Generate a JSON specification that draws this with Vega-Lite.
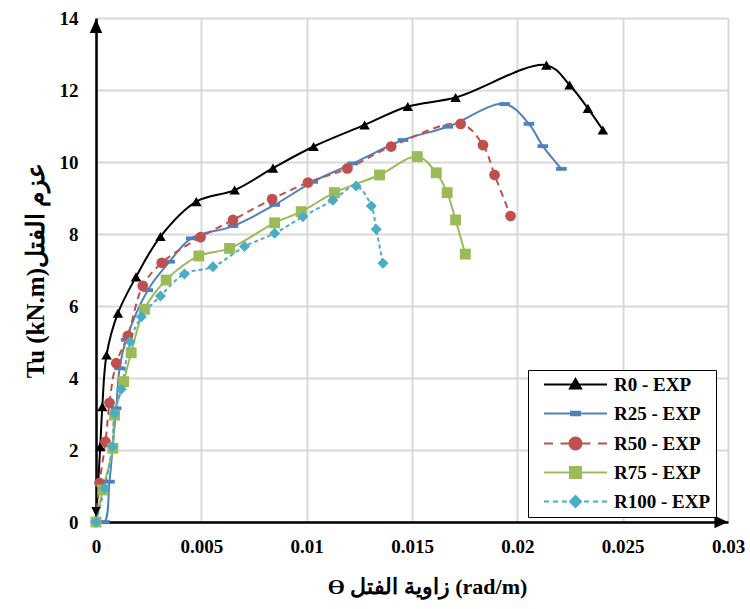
{
  "$schema": "https://vega.github.io/schema/vega-lite/v6.json",
  "width": 632,
  "height": 504,
  "autosize": {"type": "none"},
  "padding": {"left": 96, "top": 18, "right": 22, "bottom": 87},
  "background": "white",
  "config": {
    "view": {"stroke": null},
    "font": "Liberation Serif",
    "axis": {
      "domainColor": "black",
      "domainWidth": 2.5,
      "gridColor": "#d9d9d9",
      "gridWidth": 2,
      "ticks": false,
      "labelFlush": false,
      "labelFont": "Liberation Serif",
      "labelFontWeight": "bold",
      "labelFontSize": 19,
      "labelColor": "black",
      "titleFont": "Liberation Serif",
      "titleFontWeight": "bold",
      "titleFontSize": 22,
      "titleColor": "black"
    }
  },
  "datasets": {
    "curves": [
      {"series": "R0 - EXP", "theta": 0, "tu": 0},
      {"series": "R0 - EXP", "theta": 0.0002, "tu": 2.09},
      {"series": "R0 - EXP", "theta": 0.0003, "tu": 3.2},
      {"series": "R0 - EXP", "theta": 0.0005, "tu": 4.64},
      {"series": "R0 - EXP", "theta": 0.00104, "tu": 5.8},
      {"series": "R0 - EXP", "theta": 0.0019, "tu": 6.81},
      {"series": "R0 - EXP", "theta": 0.00306, "tu": 7.93},
      {"series": "R0 - EXP", "theta": 0.00476, "tu": 8.9},
      {"series": "R0 - EXP", "theta": 0.00658, "tu": 9.22},
      {"series": "R0 - EXP", "theta": 0.0084, "tu": 9.83},
      {"series": "R0 - EXP", "theta": 0.01033, "tu": 10.43},
      {"series": "R0 - EXP", "theta": 0.01275, "tu": 11.03},
      {"series": "R0 - EXP", "theta": 0.0148, "tu": 11.54},
      {"series": "R0 - EXP", "theta": 0.01707, "tu": 11.79},
      {"series": "R0 - EXP", "theta": 0.02138, "tu": 12.69},
      {"series": "R0 - EXP", "theta": 0.02248, "tu": 12.14},
      {"series": "R0 - EXP", "theta": 0.02335, "tu": 11.49},
      {"series": "R0 - EXP", "theta": 0.02406, "tu": 10.89},

      {"series": "R25 - EXP", "theta": 0, "tu": 0},
      {"series": "R25 - EXP", "theta": 0.0004, "tu": 0},
      {"series": "R25 - EXP", "theta": 0.00064, "tu": 1.12},
      {"series": "R25 - EXP", "theta": 0.0008, "tu": 2.14},
      {"series": "R25 - EXP", "theta": 0.00096, "tu": 3.16},
      {"series": "R25 - EXP", "theta": 0.00112, "tu": 4.27},
      {"series": "R25 - EXP", "theta": 0.00143, "tu": 5.06},
      {"series": "R25 - EXP", "theta": 0.00246, "tu": 6.44},
      {"series": "R25 - EXP", "theta": 0.00349, "tu": 7.23},
      {"series": "R25 - EXP", "theta": 0.00452, "tu": 7.88},
      {"series": "R25 - EXP", "theta": 0.0065, "tu": 8.22},
      {"series": "R25 - EXP", "theta": 0.00848, "tu": 8.81},
      {"series": "R25 - EXP", "theta": 0.01029, "tu": 9.45},
      {"series": "R25 - EXP", "theta": 0.01219, "tu": 9.96},
      {"series": "R25 - EXP", "theta": 0.01457, "tu": 10.61},
      {"series": "R25 - EXP", "theta": 0.0167, "tu": 10.98},
      {"series": "R25 - EXP", "theta": 0.0194, "tu": 11.61},
      {"series": "R25 - EXP", "theta": 0.02055, "tu": 11.06},
      {"series": "R25 - EXP", "theta": 0.02121, "tu": 10.44},
      {"series": "R25 - EXP", "theta": 0.02209, "tu": 9.81},

      {"series": "R50 - EXP", "theta": 0, "tu": 0},
      {"series": "R50 - EXP", "theta": 0.00017, "tu": 1.09},
      {"series": "R50 - EXP", "theta": 0.00045, "tu": 2.23},
      {"series": "R50 - EXP", "theta": 0.00064, "tu": 3.31},
      {"series": "R50 - EXP", "theta": 0.00096, "tu": 4.41},
      {"series": "R50 - EXP", "theta": 0.00151, "tu": 5.17},
      {"series": "R50 - EXP", "theta": 0.00222, "tu": 6.56},
      {"series": "R50 - EXP", "theta": 0.00312, "tu": 7.2},
      {"series": "R50 - EXP", "theta": 0.00496, "tu": 7.91},
      {"series": "R50 - EXP", "theta": 0.0065, "tu": 8.39},
      {"series": "R50 - EXP", "theta": 0.00836, "tu": 8.97},
      {"series": "R50 - EXP", "theta": 0.01006, "tu": 9.43},
      {"series": "R50 - EXP", "theta": 0.01193, "tu": 9.82},
      {"series": "R50 - EXP", "theta": 0.01401, "tu": 10.43},
      {"series": "R50 - EXP", "theta": 0.01731, "tu": 11.06},
      {"series": "R50 - EXP", "theta": 0.01837, "tu": 10.47},
      {"series": "R50 - EXP", "theta": 0.01892, "tu": 9.64},
      {"series": "R50 - EXP", "theta": 0.01968, "tu": 8.5},

      {"series": "R75 - EXP", "theta": 0, "tu": 0},
      {"series": "R75 - EXP", "theta": 0.00032, "tu": 0.89},
      {"series": "R75 - EXP", "theta": 0.0008, "tu": 2.05},
      {"series": "R75 - EXP", "theta": 0.00088, "tu": 2.97},
      {"series": "R75 - EXP", "theta": 0.00131, "tu": 3.9},
      {"series": "R75 - EXP", "theta": 0.00167, "tu": 4.7},
      {"series": "R75 - EXP", "theta": 0.0023, "tu": 5.91},
      {"series": "R75 - EXP", "theta": 0.00333, "tu": 6.72},
      {"series": "R75 - EXP", "theta": 0.00488, "tu": 7.39},
      {"series": "R75 - EXP", "theta": 0.00634, "tu": 7.6},
      {"series": "R75 - EXP", "theta": 0.00848, "tu": 8.31},
      {"series": "R75 - EXP", "theta": 0.00974, "tu": 8.62},
      {"series": "R75 - EXP", "theta": 0.01132, "tu": 9.15},
      {"series": "R75 - EXP", "theta": 0.01346, "tu": 9.64},
      {"series": "R75 - EXP", "theta": 0.01525, "tu": 10.15},
      {"series": "R75 - EXP", "theta": 0.01615, "tu": 9.7},
      {"series": "R75 - EXP", "theta": 0.01667, "tu": 9.15},
      {"series": "R75 - EXP", "theta": 0.01707, "tu": 8.39},
      {"series": "R75 - EXP", "theta": 0.01753, "tu": 7.44},

      {"series": "R100 - EXP", "theta": 0, "tu": 0},
      {"series": "R100 - EXP", "theta": 0.0004, "tu": 0.94},
      {"series": "R100 - EXP", "theta": 0.00077, "tu": 2.09},
      {"series": "R100 - EXP", "theta": 0.00088, "tu": 3.02},
      {"series": "R100 - EXP", "theta": 0.0012, "tu": 3.69},
      {"series": "R100 - EXP", "theta": 0.00162, "tu": 5.01},
      {"series": "R100 - EXP", "theta": 0.00215, "tu": 5.7},
      {"series": "R100 - EXP", "theta": 0.00306, "tu": 6.28},
      {"series": "R100 - EXP", "theta": 0.0042, "tu": 6.89},
      {"series": "R100 - EXP", "theta": 0.00555, "tu": 7.09},
      {"series": "R100 - EXP", "theta": 0.00705, "tu": 7.65},
      {"series": "R100 - EXP", "theta": 0.00848, "tu": 8.02},
      {"series": "R100 - EXP", "theta": 0.00982, "tu": 8.48},
      {"series": "R100 - EXP", "theta": 0.01124, "tu": 8.94},
      {"series": "R100 - EXP", "theta": 0.01235, "tu": 9.33},
      {"series": "R100 - EXP", "theta": 0.01307, "tu": 8.78},
      {"series": "R100 - EXP", "theta": 0.0133, "tu": 8.13},
      {"series": "R100 - EXP", "theta": 0.01362, "tu": 7.19}
    ],
    "axisArrows": [
      {"dir": "up", "theta": 0, "tu": 13.78},
      {"dir": "down", "theta": 0, "tu": 0.28},
      {"dir": "right", "theta": 0.02968, "tu": 0}
    ]
  },
  "layer": [
    {
      "data": {"name": "curves"},
      "transform": [{"filter": "datum.series !== 'R50 - EXP' && datum.series !== 'R100 - EXP'"}],
      "mark": {"type": "line", "interpolate": "catmull-rom", "strokeWidth": 2},
      "encoding": {
        "x": {
          "field": "theta", "type": "quantitative",
          "scale": {"domain": [0, 0.03], "nice": false, "zero": true},
          "axis": {
            "values": [0, 0.005, 0.01, 0.015, 0.02, 0.025, 0.03],
            "format": "~g",
            "labelPadding": 15,
            "titlePadding": 20,
            "titleX": 331,
            "title": "ϴ زاوية الفتل (rad/m)"
          }
        },
        "y": {
          "field": "tu", "type": "quantitative",
          "scale": {"domain": [0, 14], "nice": false},
          "axis": {
            "values": [0, 2, 4, 6, 8, 10, 12, 14],
            "labelPadding": 18,
            "titlePadding": 11,
            "titleFontSize": 25,
            "title": "Tu (kN.m)عزم الفتل"
          }
        },
        "color": {
          "field": "series", "type": "nominal", "legend": null,
          "scale": {
            "domain": ["R0 - EXP", "R25 - EXP", "R50 - EXP", "R75 - EXP", "R100 - EXP"],
            "range": ["#000000", "#4F81BD", "#C0504D", "#9BBB59", "#4BACC6"]
          }
        }
      }
    },
    {
      "data": {"name": "curves"},
      "transform": [{"filter": "datum.series === 'R50 - EXP'"}],
      "mark": {"type": "line", "interpolate": "catmull-rom", "strokeWidth": 2, "strokeDash": [7, 5], "color": "#C0504D"},
      "encoding": {
        "x": {"field": "theta", "type": "quantitative"},
        "y": {"field": "tu", "type": "quantitative"}
      }
    },
    {
      "data": {"name": "curves"},
      "transform": [{"filter": "datum.series === 'R100 - EXP'"}],
      "mark": {"type": "line", "interpolate": "catmull-rom", "strokeWidth": 2, "strokeDash": [4, 3], "color": "#4BACC6"},
      "encoding": {
        "x": {"field": "theta", "type": "quantitative"},
        "y": {"field": "tu", "type": "quantitative"}
      }
    },
    {
      "data": {"name": "curves"},
      "mark": {"type": "point", "filled": true, "opacity": 1},
      "encoding": {
        "x": {"field": "theta", "type": "quantitative"},
        "y": {"field": "tu", "type": "quantitative"},
        "color": {
          "field": "series", "type": "nominal", "legend": null,
          "scale": {
            "domain": ["R0 - EXP", "R25 - EXP", "R50 - EXP", "R75 - EXP", "R100 - EXP"],
            "range": ["#000000", "#4F81BD", "#C0504D", "#9BBB59", "#4BACC6"]
          }
        },
        "shape": {
          "field": "series", "type": "nominal", "legend": null,
          "scale": {
            "domain": ["R0 - EXP", "R25 - EXP", "R50 - EXP", "R75 - EXP", "R100 - EXP"],
            "range": ["triangle-up", "M-1,-0.36H1V0.36H-1Z", "circle", "square", "diamond"]
          }
        },
        "size": {
          "field": "series", "type": "nominal", "legend": null,
          "scale": {
            "domain": ["R0 - EXP", "R25 - EXP", "R50 - EXP", "R75 - EXP", "R100 - EXP"],
            "range": [110, 121, 170, 115, 85]
          }
        }
      }
    },
    {
      "data": {"name": "curves"},
      "transform": [{"filter": "false"}],
      "mark": {"type": "point", "filled": true, "opacity": 1, "strokeWidth": 2},
      "encoding": {
        "x": {"field": "theta", "type": "quantitative"},
        "y": {"field": "tu", "type": "quantitative"},
        "fill": {
          "field": "series", "type": "nominal", "title": null,
          "scale": {
            "domain": ["R0 - EXP", "R25 - EXP", "R50 - EXP", "R75 - EXP", "R100 - EXP"],
            "range": ["#000000", "#4F81BD", "#C0504D", "#9BBB59", "#4BACC6"]
          }
        },
        "stroke": {
          "field": "series", "type": "nominal", "title": null,
          "scale": {
            "domain": ["R0 - EXP", "R25 - EXP", "R50 - EXP", "R75 - EXP", "R100 - EXP"],
            "range": ["#000000", "#4F81BD", "#C0504D", "#9BBB59", "#4BACC6"]
          }
        },
        "shape": {
          "field": "series", "type": "nominal", "title": null,
          "scale": {
            "domain": ["R0 - EXP", "R25 - EXP", "R50 - EXP", "R75 - EXP", "R100 - EXP"],
            "range": [
              "M-6.3,0H6.3M0,-1.1L1.1,0.8L-1.1,0.8Z",
              "M-6.3,0H6.3M-0.9,-0.35H0.9V0.35H-0.9Z",
              "M-6.3,0H-4.5M-3,0H-1.2A1.2,1.2,0,1,1,1.2,0A1.2,1.2,0,1,1,-1.2,0M1.2,0H3M4.5,0H6.3",
              "M-6.3,0H6.3M-1.1,-1.1H1.1V1.1H-1.1Z",
              "M-6.3,0H-5.3M-4.5,0H-3.5M-2.7,0H-1.7M0,-1.1L1.1,0L0,1.1L-1.1,0ZM1.7,0H2.7M3.5,0H4.5M5.3,0H6.3"
            ]
          },
          "legend": {
            "orient": "none",
            "legendX": 432,
            "legendY": 352,
            "strokeColor": "black",
            "fillColor": "white",
            "padding": 5,
            "symbolSize": 100,
            "symbolStrokeWidth": 2,
            "symbolOffset": 33,
            "labelOffset": 29,
            "labelFont": "Liberation Serif",
            "labelFontWeight": "bold",
            "labelFontSize": 19,
            "labelColor": "black",
            "labelExpr": "datum.label + '\u00a0\u00a0\u00a0\u00a0'",
            "rowPadding": 9
          }
        }
      }
    },
    {
      "data": {"name": "axisArrows"},
      "mark": {"type": "point", "filled": true, "opacity": 1, "color": "black", "size": 169},
      "encoding": {
        "x": {"field": "theta", "type": "quantitative"},
        "y": {"field": "tu", "type": "quantitative"},
        "shape": {
          "field": "dir", "type": "nominal", "legend": null,
          "scale": {
            "domain": ["up", "down", "right"],
            "range": ["M0,-1.08L0.96,1.08L-0.96,1.08Z", "M0,0.75L0.7,-0.75L-0.7,-0.75Z", "M1.05,0L-1.05,0.96L-1.05,-0.96Z"]
          }
        }
      }
    }
  ],
  "resolve": {
    "scale": {
      "color": "independent",
      "fill": "independent",
      "stroke": "independent",
      "shape": "independent",
      "size": "independent"
    }
  }
}
